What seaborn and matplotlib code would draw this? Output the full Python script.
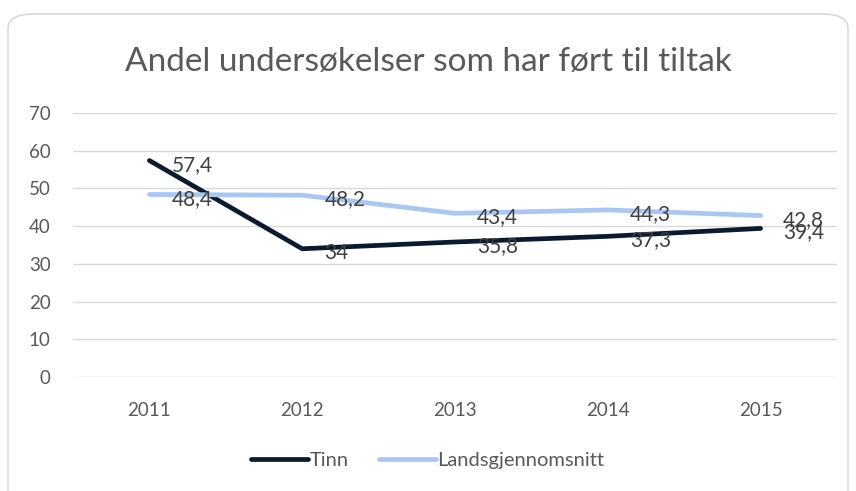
import pandas as pd
import matplotlib.pyplot as plt
import seaborn as sns
from matplotlib.patches import FancyBboxPatch

years = ["2011", "2012", "2013", "2014", "2015"]
tinn = [57.4, 34, 35.8, 37.3, 39.4]
landsgj = [48.4, 48.2, 43.4, 44.3, 42.8]
series_names = ["Tinn", "Landsgjennomsnitt"]
colors = ["#0b1a2e", "#a8c7f4"]

sns.set_style("white")
plt.rcParams["font.family"] = ["Lato", "DejaVu Sans"]

df = pd.DataFrame({
    "År": years * 2,
    "pos": list(range(len(years))) * 2,
    "Verdi": tinn + landsgj,
    "Serie": [series_names[0]] * len(years) + [series_names[1]] * len(years),
})

fig = plt.figure(figsize=(8.56, 4.91), dpi=100)
ax = fig.add_axes([73 / 856, 1 - 377 / 491, (837 - 73) / 856, (377 - 113) / 491])

# rounded chart frame (bottom runs off the image)
frame = FancyBboxPatch((8 / 856, -60 / 491), 840 / 856, (491 - 14 + 60) / 491,
                       boxstyle="round,pad=0,rounding_size=0.03",
                       transform=fig.transFigure, facecolor="white",
                       edgecolor="#d9d9d9", linewidth=1.2, zorder=-10)
fig.patches.append(frame)
ax.set_facecolor("none")

sns.lineplot(data=df, x="pos", y="Verdi", hue="Serie", palette=colors,
             linewidth=3.4, ax=ax, legend=False, sort=False,
             solid_capstyle="round", solid_joinstyle="miter")

# data labels to the right of each point
for vals in [tinn, landsgj]:
    for i, v in enumerate(vals):
        ax.annotate(f"{v:g}".replace(".", ","), (i, v), xytext=(16, -3),
                    textcoords="offset points", ha="left", va="center",
                    fontsize=15, color="#404040")

ax.set_xlim(-0.5, len(years) - 0.5)
ax.set_ylim(0, 70)
ax.set_yticks(range(0, 71, 10))
ax.set_xticks(range(len(years)))
ax.set_xticklabels(years)
ax.grid(axis="y", color="#d9d9d9", linewidth=1)
ax.set_axisbelow(True)
for s in ax.spines.values():
    s.set_visible(False)
ax.tick_params(axis="both", length=0, labelsize=13.5, labelcolor="#595959")
ax.tick_params(axis="y", pad=16)
ax.tick_params(axis="x", pad=18)
ax.set_xlabel("")
ax.set_ylabel("")

fig.text(0.5, 1 - 62 / 491, "Andel undersøkelser som har ført til tiltak",
         ha="center", va="center", fontsize=24, color="#595959")

handles = [plt.Line2D([], [], color=c, linewidth=3.4, solid_capstyle="round") for c in colors]
fig.legend(handles, series_names, loc="center", bbox_to_anchor=(0.5, 1 - 460 / 491),
           ncol=2, frameon=False, fontsize=14.5, labelcolor="#595959",
           handlelength=2.8, handletextpad=0.1, columnspacing=1.5)

fig.savefig("out.png", dpi=100)
